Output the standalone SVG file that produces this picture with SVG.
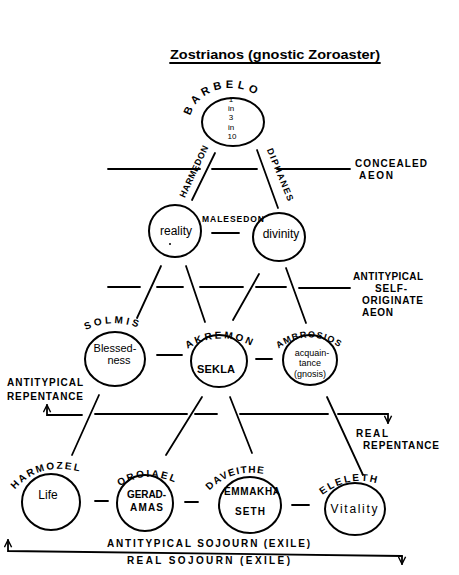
<svg xmlns="http://www.w3.org/2000/svg" width="459" height="575" viewBox="0 0 459 575">
<style>
.c{fill:none;stroke:#000;stroke-width:2}
.l{fill:none;stroke:#000;stroke-width:1.8;stroke-linecap:round}
text{font-family:"Liberation Sans",Arial,sans-serif;fill:#000}
.n{font-size:12px;text-anchor:middle}
.s{font-size:10px;text-anchor:middle}
.b{font-size:8px;text-anchor:middle}
.cap{font-size:10px;font-weight:bold}
.arc{font-size:10px;font-weight:bold;letter-spacing:1.5px}
</style>
<defs>
<marker id="ah" viewBox="0 0 10 10" refX="9" refY="5" markerWidth="9" markerHeight="9" orient="auto" markerUnits="userSpaceOnUse"><path d="M1,1 L9,5 L1,9" fill="none" stroke="#000" stroke-width="1.6"/></marker>
<path id="pBarbelo" d="M 190,122 A 41 34 0 0 1 272,122"/>
<path id="pHarmedon" d="M 184,200 L 209,146"/>
<path id="pDiphanes" d="M 266,148 L 289,204"/>
<path id="pSolmis" d="M 84,331 Q 113,316 144,330"/>
<path id="pAkremon" d="M 186,350 Q 218,328 256,348"/>
<path id="pAmbrosios" d="M 277,350 Q 310,324 346,352"/>
<path id="pHarmozel" d="M 13,492 Q 40,458 88,474"/>
<path id="pOroiael" d="M 117,488 Q 145,468 178,484"/>
<path id="pDaveithe" d="M 208,492 Q 235,463 280,478"/>
<path id="pEleleth" d="M 320,497 Q 350,472 385,486"/>
</defs>
<rect width="459" height="575" fill="#fff"/>

<g id="title">
<text x="170" y="59" style="font-size:12px;font-weight:bold" textLength="210" lengthAdjust="spacingAndGlyphs">Zostrianos (gnostic Zoroaster)</text>
<line class="l" x1="170" y1="63" x2="380" y2="63"/>
</g>

<g id="connectors">
<line class="l" x1="215" y1="153" x2="192" y2="200"/>
<line class="l" x1="257" y1="150" x2="278" y2="208"/>
<line class="l" x1="161" y1="266" x2="137" y2="318"/>
<line class="l" x1="186" y1="266" x2="205" y2="322"/>
<line class="l" x1="259" y1="274" x2="233" y2="320"/>
<line class="l" x1="286" y1="268" x2="306" y2="323"/>
<line class="l" x1="99" y1="395" x2="72" y2="455"/>
<line class="l" x1="202" y1="397" x2="166" y2="455"/>
<line class="l" x1="230" y1="397" x2="252" y2="453"/>
<line class="l" x1="327" y1="397" x2="363" y2="475"/>
<line class="l" x1="212" y1="233" x2="239" y2="233"/>
<line class="l" x1="157" y1="355" x2="182" y2="355"/>
<line class="l" x1="256" y1="359" x2="272" y2="359"/>
<line class="l" x1="95" y1="501" x2="108" y2="501"/>
<line class="l" x1="185" y1="502" x2="198" y2="502"/>
<line class="l" x1="292" y1="505" x2="309" y2="505"/>
<text class="cap" style="font-size:9px"><textPath href="#pHarmedon" startOffset="2" textLength="56" lengthAdjust="spacing">HARMEDON</textPath></text>
<text class="cap" style="font-size:9px"><textPath href="#pDiphanes" startOffset="2" textLength="56" lengthAdjust="spacing">DIPHANES</textPath></text>
<text class="cap" style="font-size:8.5px" x="202" y="222" textLength="62" lengthAdjust="spacing">MALESEDON</text>
</g>

<g id="aeon-lines">
<line class="l" x1="108" y1="169" x2="200" y2="169"/>
<line class="l" x1="212" y1="169" x2="257" y2="169"/>
<line class="l" x1="277" y1="169" x2="350" y2="169"/>
<text class="cap" x="355" y="167" textLength="72" lengthAdjust="spacing">CONCEALED</text>
<text class="cap" x="359" y="179" textLength="34" lengthAdjust="spacing">AEON</text>
<line class="l" x1="108" y1="287" x2="140" y2="287"/>
<line class="l" x1="157" y1="287" x2="183" y2="287"/>
<line class="l" x1="200" y1="287" x2="243" y2="287"/>
<line class="l" x1="256" y1="287" x2="286" y2="287"/>
<line class="l" x1="299" y1="288" x2="350" y2="288"/>
<text class="cap" x="353" y="280" textLength="70" lengthAdjust="spacing">ANTITYPICAL</text>
<text class="cap" x="375" y="292" textLength="32" lengthAdjust="spacing">SELF-</text>
<text class="cap" x="362" y="304" textLength="61" lengthAdjust="spacing">ORIGINATE</text>
<text class="cap" x="362" y="316" textLength="31" lengthAdjust="spacing">AEON</text>
</g>

<g id="repentance">
<path class="l" d="M 82,415 L 47,415 L 47,405" marker-end="url(#ah)"/>
<line class="l" x1="95" y1="414" x2="187" y2="414"/>
<line class="l" x1="195" y1="414" x2="217" y2="414"/>
<line class="l" x1="240" y1="414" x2="328" y2="414"/>
<path class="l" d="M 338,414 L 388,414 L 388,423" marker-end="url(#ah)"/>
<text class="cap" x="7" y="386" textLength="76" lengthAdjust="spacing">ANTITYPICAL</text>
<text class="cap" x="7" y="400" textLength="76" lengthAdjust="spacing">REPENTANCE</text>
<text class="cap" x="356" y="437" textLength="32" lengthAdjust="spacing">REAL</text>
<text class="cap" x="363" y="449" textLength="76" lengthAdjust="spacing">REPENTANCE</text>
</g>

<g id="sojourn">
<path class="l" d="M 402,556 L 8,551 L 8,540" marker-end="url(#ah)"/>
<path class="l" d="M 402,556 L 402,564" marker-end="url(#ah)"/>
<text class="cap" x="107" y="547" textLength="203" lengthAdjust="spacing">ANTITYPICAL SOJOURN (EXILE)</text>
<text class="cap" x="127" y="564" textLength="163" lengthAdjust="spacing">REAL SOJOURN (EXILE)</text>
</g>

<g id="barbelo">
<ellipse class="c" cx="233" cy="122" rx="31" ry="24"/>
<text class="arc" style="font-size:11px;letter-spacing:4px"><textPath href="#pBarbelo" startOffset="6">BARBELO</textPath></text>
<text class="b"><tspan x="231" y="102">1</tspan><tspan x="231" y="111">in</tspan><tspan x="231" y="120">3</tspan><tspan x="231" y="129.5">in</tspan><tspan x="232" y="139">10</tspan></text>
</g>

<g id="reality">
<ellipse class="c" cx="175" cy="231" rx="26" ry="26"/>
<text class="n" x="176" y="235">reality</text>
<circle cx="170" cy="244" r="1" fill="#000"/>
</g>

<g id="divinity">
<ellipse class="c" cx="279" cy="237" rx="26" ry="24"/>
<text class="n" x="281" y="238">divinity</text>
</g>

<g id="blessedness">
<ellipse class="c" cx="115" cy="359" rx="30" ry="27"/>
<text class="arc" style="letter-spacing:3px"><textPath href="#pSolmis" startOffset="2">SOLMIS</textPath></text>
<text class="n" style="font-size:11px" x="115" y="352">Blessed-</text>
<text class="n" style="font-size:11px" x="119" y="364">ness</text>
</g>

<g id="sekla">
<ellipse class="c" cx="219" cy="361" rx="28" ry="26"/>
<text class="arc" style="letter-spacing:2.5px"><textPath href="#pAkremon" startOffset="2">AKREMON</textPath></text>
<text class="cap" style="font-size:11px" x="197" y="373" textLength="38" lengthAdjust="spacing">SEKLA</text>
</g>

<g id="ambrosios">
<ellipse class="c" cx="310" cy="360" rx="27" ry="25"/>
<text class="arc" style="font-size:9px;letter-spacing:1.2px"><textPath href="#pAmbrosios" startOffset="2">AMBROSIOS</textPath></text>
<text class="s" style="font-size:9px" x="312" y="356">acquain-</text>
<text class="s" style="font-size:9px" x="310" y="366">tance</text>
<text class="s" style="font-size:9px" x="310" y="377">(gnosis)</text>
</g>

<g id="life">
<ellipse class="c" cx="51" cy="502" rx="29" ry="28"/>
<text class="arc" style="letter-spacing:2px"><textPath href="#pHarmozel" startOffset="3">HARMOZEL</textPath></text>
<text class="n" x="48" y="499">Life</text>
</g>

<g id="geradamas">
<ellipse class="c" cx="145" cy="503" rx="28" ry="28"/>
<text class="arc" style="letter-spacing:2px"><textPath href="#pOroiael" startOffset="3">OROIAEL</textPath></text>
<text class="cap" x="127" y="498" textLength="39" lengthAdjust="spacing">GERAD-</text>
<text class="cap" x="130" y="511" textLength="33" lengthAdjust="spacing">AMAS</text>
</g>

<g id="emmakha-seth">
<ellipse class="c" cx="250" cy="505" rx="31" ry="28"/>
<text class="arc" style="letter-spacing:1.3px"><textPath href="#pDaveithe" startOffset="2">DAVEITHE</textPath></text>
<text class="cap" x="224" y="495" textLength="56" lengthAdjust="spacing">EMMAKHA</text>
<text class="cap" x="235" y="515" textLength="30" lengthAdjust="spacing">SETH</text>
</g>

<g id="vitality">
<ellipse class="c" cx="355" cy="509" rx="30" ry="26"/>
<text class="arc" style="letter-spacing:2px"><textPath href="#pEleleth" startOffset="3">ELELETH</textPath></text>
<text class="n" x="354" y="513" textLength="47" lengthAdjust="spacing">Vitality</text>
</g>
</svg>
